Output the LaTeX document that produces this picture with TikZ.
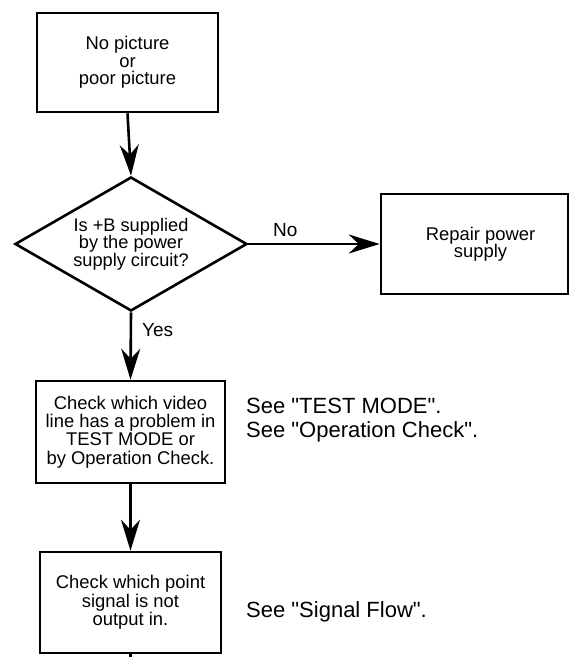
\documentclass[tikz,border=0pt]{standalone}
\usepackage{fontspec}
\setmainfont{Liberation Sans}
\usetikzlibrary{shapes.geometric,arrows.meta}

\newcommand{\qq}{\textquotedbl}

\tikzset{
  flowbox/.style={draw, line width=2.6pt, inner sep=0pt, align=center,
    font=\fontsize{18.4}{18.4}\selectfont},
  decision/.style={draw, diamond, aspect=1.73, line width=2.6pt, inner sep=0pt,
    align=center, font=\fontsize{18.2}{17.5}\selectfont},
  link/.style={line width=2.6pt, -{Stealth[length=31pt, width=19pt, inset=10pt]}},
  plainlink/.style={line width=2.6pt},
  lbl/.style={inner sep=0pt, font=\fontsize{19}{19}\selectfont},
  note/.style={inner sep=0pt, align=left, anchor=base west,
    font=\fontsize{22}{24}\selectfont}
}

\begin{document}
\begin{tikzpicture}[x=1pt, y=-1pt]
  \useasboundingbox (0,0) rectangle (574,657);

  % start box
  \node[flowbox, minimum width=181pt, minimum height=99pt,
        font=\fontsize{18.4}{17.5}\selectfont] (start) at (127.5,62.5)
    {No picture\\or\\poor picture};

  % supply question
  \node[decision, minimum width=232pt, minimum height=134pt] (q) at (131,244)
    {Is +B supplied\\by the power\\supply circuit?};

  % repair branch
  \node[flowbox, minimum width=187pt, minimum height=100pt,
        font=\fontsize{18.4}{17.5}\selectfont] (repair) at (474.5,244)
    {\hspace*{12pt}Repair power\\\hspace*{12pt}supply};

  % video line check
  \node[flowbox, minimum width=189pt, minimum height=102pt] (video) at (130.5,432)
    {Check which video\\line has a problem in\\TEST MODE or\\by Operation Check.};

  % signal point check
  \node[flowbox, minimum width=181pt, minimum height=101pt] (point) at (130.5,602.5)
    {Check which point\\signal is not\\output in.};

  \coordinate (cont) at (point.south |- 0,657);

  % connectors
  \draw[link] (start.south) -- (q.north);
  \draw[link] (q.east) -- (repair.west);
  \draw[link] (q.south) -- (video.north);
  \draw[link] (video.south) -- (point.north);
  \draw[plainlink] (point.south) -- (cont);

  % branch labels
  \node[lbl, anchor=base west] (no) at (273,236) {No};
  \node[lbl, anchor=base west] (yes) at (142,336) {Yes};

  % references
  \node[note] (seeA) at (246,437) {See \qq TEST MODE\qq.\\See \qq Operation Check\qq.};
  \node[note] (seeB) at (246,617) {See \qq Signal Flow\qq.};
\end{tikzpicture}
\end{document}
